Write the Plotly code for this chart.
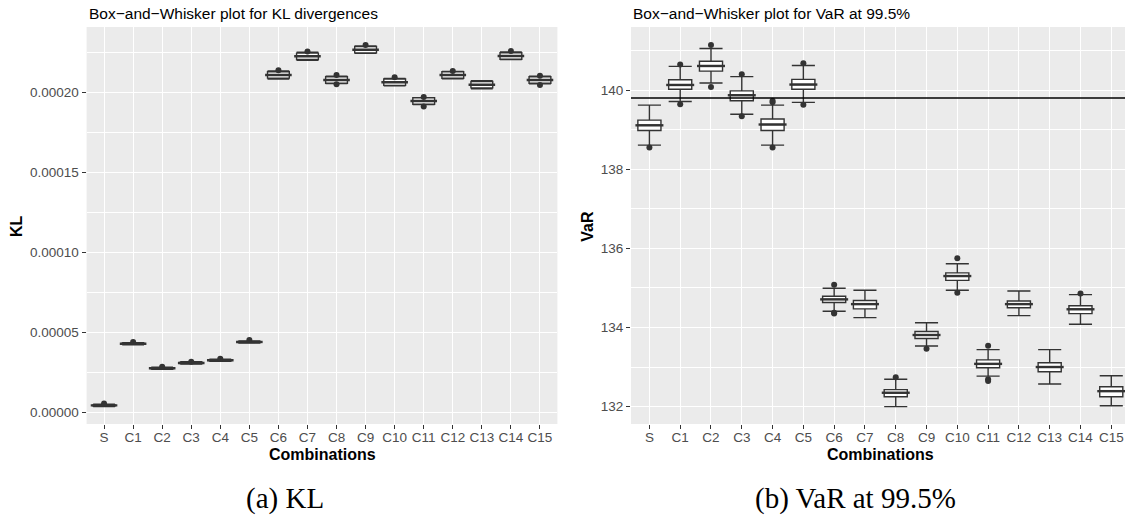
import plotly.graph_objects as go

# ---------------- data ----------------
categories = ["S", "C1", "C2", "C3", "C4", "C5", "C6", "C7", "C8", "C9",
              "C10", "C11", "C12", "C13", "C14", "C15"]

# KL divergences (box statistics)
kl_q1 = [4.2e-6, 4.27e-5, 2.74e-5, 3.07e-5, 3.24e-5, 4.38e-5,
         2.091e-4, 2.2075e-4, 2.0594e-4, 2.2488e-4, 2.0456e-4, 1.9281e-4,
         2.0906e-4, 2.030e-4, 2.2094e-4, 2.0594e-4]
kl_med = [4.6e-6, 4.31e-5, 2.78e-5, 3.11e-5, 3.28e-5, 4.42e-5,
          2.111e-4, 2.2275e-4, 2.0794e-4, 2.2688e-4, 2.0656e-4, 1.9481e-4,
          2.1106e-4, 2.050e-4, 2.2294e-4, 2.0794e-4]
kl_q3 = [5.0e-6, 4.35e-5, 2.82e-5, 3.15e-5, 3.32e-5, 4.46e-5,
         2.131e-4, 2.2475e-4, 2.0994e-4, 2.2888e-4, 2.0856e-4, 1.9681e-4,
         2.1306e-4, 2.070e-4, 2.2494e-4, 2.0994e-4]
kl_lo = [3.9e-6, 4.24e-5, 2.71e-5, 3.04e-5, 3.21e-5, 4.35e-5,
         2.086e-4, 2.2025e-4, 2.0564e-4, 2.2458e-4, 2.0426e-4, 1.9261e-4,
         2.0876e-4, 2.025e-4, 2.2064e-4, 2.0554e-4]
kl_hi = [5.3e-6, 4.38e-5, 2.85e-5, 3.18e-5, 3.35e-5, 4.49e-5,
         2.136e-4, 2.2525e-4, 2.1024e-4, 2.2918e-4, 2.0886e-4, 1.9691e-4,
         2.1321e-4, 2.075e-4, 2.2544e-4, 2.1034e-4]
kl_out_x = ["S", "C1", "C2", "C3", "C4", "C5", "C6", "C7", "C8", "C8",
            "C9", "C10", "C11", "C11", "C12", "C14", "C15", "C15"]
kl_out_y = [5.8e-6, 4.42e-5, 2.87e-5, 3.19e-5, 3.37e-5, 4.54e-5, 2.140e-4,
            2.257e-4, 2.1106e-4, 2.0525e-4, 2.2981e-4, 2.0963e-4, 1.9725e-4,
            1.9135e-4, 2.1350e-4, 2.2606e-4, 2.1063e-4, 2.0481e-4]

# VaR at 99.5% (box statistics)
var_q1 = [138.98, 140.02, 140.48, 139.73, 138.98, 140.02, 134.63, 134.47,
          132.25, 133.72, 135.19, 132.98, 134.50, 132.88, 134.35, 132.25]
var_med = [139.11, 140.13, 140.61, 139.87, 139.13, 140.14, 134.71, 134.59,
           132.35, 133.81, 135.30, 133.08, 134.59, 133.00, 134.46, 132.39]
var_q3 = [139.24, 140.26, 140.73, 139.98, 139.27, 140.27, 134.79, 134.68,
          132.43, 133.90, 135.38, 133.18, 134.67, 133.11, 134.55, 132.50]
var_lo = [138.61, 139.71, 140.18, 139.39, 138.61, 139.69, 134.41, 134.25,
          132.00, 133.53, 134.94, 132.77, 134.30, 132.57, 134.08, 132.02]
var_hi = [139.62, 140.60, 141.05, 140.34, 139.62, 140.62, 134.99, 134.94,
          132.69, 134.12, 135.61, 133.44, 134.92, 133.44, 134.83, 132.78]
var_out_x = ["S", "C1", "C1", "C2", "C2", "C3", "C3", "C4", "C4", "C4", "C5",
             "C5", "C6", "C6", "C6", "C8", "C9", "C10", "C10", "C11", "C11",
             "C11", "C14"]
var_out_y = [138.55, 140.65, 139.64, 141.14, 140.08, 140.40, 139.34, 139.73,
             139.69, 138.55, 140.68, 139.63, 135.08, 134.37, 134.35, 132.74,
             133.46, 135.75, 134.88, 133.54, 132.69, 132.65, 134.86]
var_reference = 139.8

titles = ["Box\u2212and\u2212Whisker plot for KL divergences",
          "Box\u2212and\u2212Whisker plot for VaR at 99.5%"]
captions = ["(a) KL", "(b) VaR at 99.5%"]

# ---------------- style ----------------
W, H = 1125, 516
DARK = "#333333"
PANEL = "#EBEBEB"
TICKC = "#4D4D4D"
SANS = "Liberation Sans"
SERIF = "Liberation Serif"

y_dom = [1 - 424 / H, 1 - 27 / H]
x1_dom = [86.6 / W, 557.4 / W]
x2_dom = [631 / W, 1.0]

fig = go.Figure()


def add_panel(xa, ya, q1, med, q3, lo, hi, ox, oy, box_px):
    fig.add_trace(go.Box(
        x=categories, q1=q1, median=med, q3=q3, lowerfence=lo, upperfence=hi,
        xaxis=xa, yaxis=ya, width=0.75, whiskerwidth=1, boxpoints=False,
        fillcolor="white", line=dict(color=DARK, width=1.4),
        showlegend=False, hoverinfo="skip"))
    # thicker median line (ggplot fatten)
    fig.add_trace(go.Scatter(
        x=categories, y=med, mode="markers", xaxis=xa, yaxis=ya,
        marker=dict(symbol="line-ew", size=box_px,
                    line=dict(color=DARK, width=2.4)),
        showlegend=False, hoverinfo="skip"))
    fig.add_trace(go.Scatter(
        x=ox, y=oy, mode="markers", xaxis=xa, yaxis=ya,
        marker=dict(color=DARK, size=6),
        showlegend=False, hoverinfo="skip"))


add_panel("x", "y", kl_q1, kl_med, kl_q3, kl_lo, kl_hi, kl_out_x, kl_out_y, 19)
add_panel("x2", "y2", var_q1, var_med, var_q3, var_lo, var_hi,
          var_out_x, var_out_y, 20)

common_x = dict(type="category", categoryorder="array",
                categoryarray=categories, showgrid=True, gridcolor="white",
                gridwidth=1.1, zeroline=False, showline=False,
                ticks="outside", ticklen=4, tickwidth=1.1, tickcolor=DARK,
                ticklabelstandoff=-3,
                tickfont=dict(family=SANS, size=13.5, color=TICKC),
                automargin=False, fixedrange=True)
common_y = dict(showgrid=True, gridcolor="white", gridwidth=1.1,
                zeroline=False, showline=False, ticks="outside", ticklen=4,
                tickwidth=1.1, tickcolor=DARK,
                tickfont=dict(family=SANS, size=13.5, color=TICKC),
                automargin=False, fixedrange=True)

fig.update_layout(
    width=W, height=H, margin=dict(l=0, r=0, t=0, b=0),
    paper_bgcolor="white", plot_bgcolor=PANEL, showlegend=False,
    xaxis=dict(domain=x1_dom, anchor="y", range=[-0.6, 15.6], **common_x),
    yaxis=dict(domain=y_dom, anchor="x", range=[-7.06e-6, 2.4106e-4],
               tickvals=[0, 5e-5, 1e-4, 1.5e-4, 2e-4], tickformat=".5f",
               minor=dict(dtick=2.5e-5, tick0=0, showgrid=True,
                          gridcolor="white", gridwidth=0.55, ticks=""),
               **common_y),
    xaxis2=dict(domain=x2_dom, anchor="y2", range=[-0.598, 15.446],
                **common_x),
    yaxis2=dict(domain=y_dom, anchor="x2", range=[131.56, 141.595],
                tickvals=[132, 134, 136, 138, 140],
                minor=dict(dtick=1, tick0=0, showgrid=True,
                           gridcolor="white", gridwidth=0.55, ticks=""),
                **common_y),
)

fig.add_shape(type="line", xref="x2 domain", x0=0, x1=1, yref="y2",
              y0=var_reference, y1=var_reference,
              line=dict(color="black", width=1.6))

ann = []
# titles
for txt, xl in [(titles[0], 86.6), (titles[1], 631)]:
    ann.append(dict(text=txt, x=xl / W, y=1 - 13 / H, xref="paper",
                    yref="paper", xanchor="left", yanchor="middle",
                    showarrow=False,
                    font=dict(family=SANS, size=15.5, color="black")))
# axis titles
for txt, xc in [("Combinations", 322), ("Combinations", 880.4)]:
    ann.append(dict(text=txt, x=xc / W, y=1 - 454 / H, xref="paper",
                    yref="paper", xanchor="center", yanchor="middle",
                    showarrow=False,
                    font=dict(family=SANS, size=16, color="black",
                              weight="bold")))
for txt, xc in [("KL", 16), ("VaR", 586.7)]:
    ann.append(dict(text=txt, x=xc / W, y=1 - 226 / H, xref="paper",
                    yref="paper", xanchor="center", yanchor="middle",
                    textangle=-90, showarrow=False,
                    font=dict(family=SANS, size=16, color="black",
                              weight="bold")))
# captions
for txt, xc in [(captions[0], 285), (captions[1], 856)]:
    ann.append(dict(text=txt, x=xc / W, y=1 - 498 / H, xref="paper",
                    yref="paper", xanchor="center", yanchor="middle",
                    showarrow=False,
                    font=dict(family=SERIF, size=29, color="black")))
fig.update_layout(annotations=ann)

fig.write_html("out.html", config={"displayModeBar": False})
